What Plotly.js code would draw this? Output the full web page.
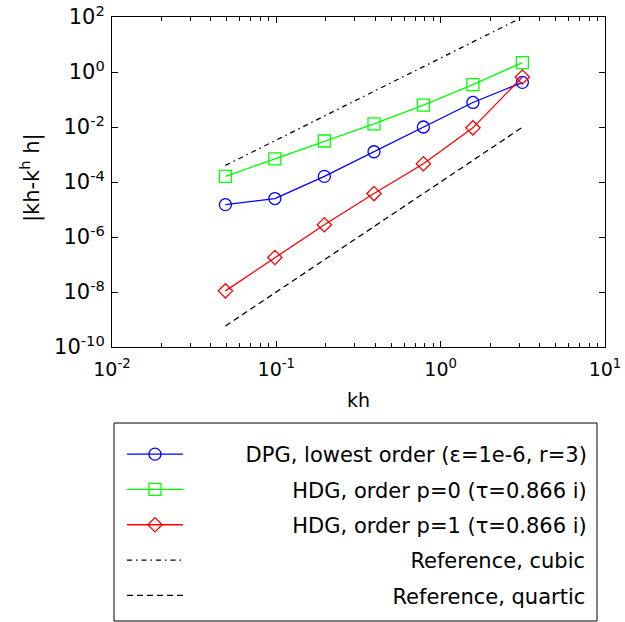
<!DOCTYPE html>
<html>
<head>
<meta charset="utf-8">
<script src="https://cdn.plot.ly/plotly-3.0.1.min.js"></script>
<style>body{margin:0;padding:0;background:#fff;} #chart{width:625px;height:622px;}</style>
</head>
<body>
<div id="chart"></div>
<script>
const kh = [0.049, 0.098, 0.196, 0.393, 0.785, 1.571, 3.142];
const dpgErr = [1.5e-5, 2.5e-5, 1.6e-4, 1.26e-3, 1.0e-2, 7.8e-2, 0.42];
const hdg0Err = [1.6e-4, 6.9e-4, 3.1e-3, 1.3e-2, 6.2e-2, 0.35, 2.2];
const hdg1Err = [1.1e-8, 1.8e-7, 2.8e-6, 3.8e-5, 4.6e-4, 9.3e-3, 0.66];
const refX = [0.049, 3.142];
const refCubic = [4.0e-4, 98];
const refQuartic = [5.8e-10, 9.8e-3];
const names = [
  "DPG, lowest order (\u03b5=1e-6, r=3)",
  "HDG, order p=0 (\u03c4=0.866 i)",
  "HDG, order p=1 (\u03c4=0.866 i)",
  "Reference, cubic",
  "Reference, quartic"
];
const xTitle = "kh";
const yTitle = "|kh-k<sup>h</sup> h|";
const xTickVals = [0.01, 0.1, 1, 10];
const xTickText = ["10<sup>-2</sup>", "10<sup>-1</sup>", "10<sup>0</sup>", "10<sup>1</sup>"];
const yTickVals = [1e-10, 1e-8, 1e-6, 1e-4, 1e-2, 1, 100];
const yTickText = ["10<sup>-10</sup>", "10<sup>-8</sup>", "10<sup>-6</sup>", "10<sup>-4</sup>",
                   "10<sup>-2</sup>", "10<sup>0</sup>", "10<sup>2</sup>"];
const xMinorVals = [];
[0.01, 0.1, 1].forEach(d => { for (let k = 2; k <= 9; k++) xMinorVals.push(d * k); });

const F = "DejaVu Sans, sans-serif";
const LEGEND_FONT = 21;
const LEGEND_X = 122;          // px, left of legend
const LEGEND_ITEMW = 56;       // px, symbol width
const LEGEND_TEXT_RIGHT = 586; // px, right edge of the (right-aligned) labels

// right-align legend labels (as in the reference) by padding with non-breaking spaces
const ctx = document.createElement("canvas").getContext("2d");
ctx.font = LEGEND_FONT + "px 'DejaVu Sans'";
const sp = ctx.measureText("\u00a0").width;
const hair = ctx.measureText("\u200a").width || 1;
const textStart = LEGEND_X + LEGEND_ITEMW + 10;
const legendNames = names.map(s => {
  const shift = LEGEND_TEXT_RIGHT - textStart - ctx.measureText(s).width;
  if (shift <= 0) return s;
  const n = Math.floor(shift / sp);
  const m = Math.round((shift - n * sp) / hair);
  return "\u00a0".repeat(n) + "\u200a".repeat(m) + s;
});

const traces = [
  {x: kh, y: dpgErr, name: legendNames[0], mode: "lines+markers", legendgroup: "a",
   line: {color: "#0000ff", width: 1.3},
   marker: {symbol: "circle-open", size: 12, color: "#0000ff", line: {width: 1.3}}},
  {x: kh, y: hdg0Err, name: legendNames[1], mode: "lines+markers", legendgroup: "b",
   line: {color: "#00ff00", width: 1.3},
   marker: {symbol: "square-open", size: 12, color: "#00ff00", line: {width: 1.3}}},
  {x: kh, y: hdg1Err, name: legendNames[2], mode: "lines+markers", legendgroup: "c",
   line: {color: "#ff0000", width: 1.3},
   marker: {symbol: "diamond-open", size: 11, color: "#ff0000", line: {width: 1.3}}},
  {x: refX, y: refCubic, name: legendNames[3], mode: "lines", legendgroup: "d",
   line: {color: "#000000", width: 1.3, dash: "5px,4px,1.5px,4px"}},
  {x: refX, y: refQuartic, name: legendNames[4], mode: "lines", legendgroup: "e",
   line: {color: "#000000", width: 1.3, dash: "6px,4px"}}
];

const layout = {
  width: 625, height: 622,
  margin: {l: 112, r: 20, t: 17, b: 275, autoexpand: false},
  paper_bgcolor: "#ffffff", plot_bgcolor: "#ffffff",
  font: {family: F, size: 19, color: "#000000"},
  showlegend: true,
  legend: {xref: "container", yref: "container", x: LEGEND_X / 625, y: 1 - 434 / 622,
           xanchor: "left", yanchor: "top",
           bgcolor: "rgba(0,0,0,0)", borderwidth: 0,
           font: {family: F, size: LEGEND_FONT, color: "#000000"},
           tracegroupgap: 5, traceorder: "grouped", itemwidth: LEGEND_ITEMW},
  xaxis: {type: "log", range: [-2, 1], tickmode: "array", tickvals: xTickVals, ticktext: xTickText,
          showgrid: false, zeroline: false, showline: true, linecolor: "#000", linewidth: 1,
          mirror: "ticks", ticks: "inside", ticklen: 6, tickcolor: "#000",
          tickfont: {family: F, size: 19}, ticklabelstandoff: 5,
          minor: {tickmode: "array", tickvals: xMinorVals, ticks: "inside", ticklen: 4,
                  tickcolor: "#000", showgrid: false},
          title: {text: xTitle, font: {family: F, size: 19}, standoff: 14}},
  yaxis: {type: "log", range: [-10, 2], tickmode: "array", tickvals: yTickVals, ticktext: yTickText,
          showgrid: false, zeroline: false, showline: true, linecolor: "#000", linewidth: 1,
          mirror: "ticks", ticks: "inside", ticklen: 6, tickcolor: "#000",
          tickfont: {family: F, size: 21}, ticklabelstandoff: 2},
  annotations: [
    {text: yTitle, xref: "paper", yref: "paper", x: (30 - 112) / 493, y: (347 - 178) / 330,
     xanchor: "center", yanchor: "middle", textangle: -90, showarrow: false,
     font: {family: F, size: 21, color: "#000000"}}
  ],
  shapes: [
    {type: "rect", xref: "paper", yref: "paper",
     x0: (114 - 112) / 493, x1: (597 - 112) / 493,
     y0: (347 - 621) / 330, y1: (347 - 423) / 330,
     line: {color: "#000000", width: 1}, fillcolor: "rgba(0,0,0,0)"}
  ]
};

Plotly.newPlot("chart", traces, layout, {displayModeBar: false, staticPlot: true});
</script>
</body>
</html>
